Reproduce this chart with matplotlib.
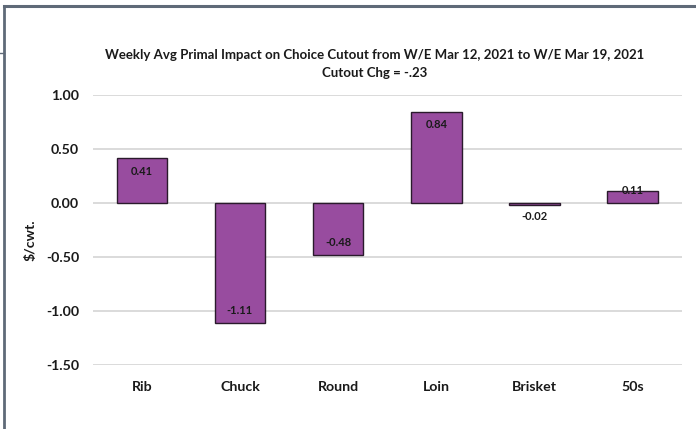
import matplotlib
matplotlib.use("Agg")
import matplotlib.pyplot as plt
from matplotlib.lines import Line2D

categories = ["Rib", "Chuck", "Round", "Loin", "Brisket", "50s"]
values = [0.41, -1.11, -0.48, 0.84, -0.02, 0.11]
value_labels = ["0.41", "-1.11", "-0.48", "0.84", "-0.02", "0.11"]
yticks = [1.00, 0.50, 0.00, -0.50, -1.00, -1.50]
ytick_labels = ["1.00", "0.50", "0.00", "-0.50", "-1.00", "-1.50"]

title_line1 = "Weekly Avg Primal Impact on Choice Cutout from W/E Mar 12, 2021 to W/E Mar 19, 2021"
title_line2 = "Cutout Chg = -.23"

FONT = "Lato"
bar_color = "#984C9F"
edge_color = "#2a1a2c"
grid_color = "#d4d4d4"
text_color = "#1a1a1a"

W, H = 696, 429
fig = plt.figure(figsize=(W / 100, H / 100), dpi=100)
fig.patch.set_facecolor("white")

ax_left, ax_bottom, ax_w, ax_h = 92.7, 364.7, 589.0, 270.0
ax = fig.add_axes([ax_left / W, 1 - ax_bottom / H, ax_w / W, ax_h / H])
ax.set_facecolor("white")

x = list(range(len(categories)))
ax.bar(x, values, width=0.515, color=bar_color, edgecolor=edge_color,
       linewidth=1.0, zorder=3)

ax.set_xlim(-0.5, len(categories) - 0.5)
ax.set_ylim(-1.5, 1.0)
ax.set_yticks(yticks)
ax.set_yticklabels(ytick_labels)
ax.set_xticks(x)
ax.set_xticklabels(categories)
ax.yaxis.grid(True, color=grid_color, linewidth=1.2, zorder=0)
ax.xaxis.grid(False)
for s in ax.spines.values():
    s.set_visible(False)
ax.tick_params(axis="both", length=0, colors=text_color)
ax.tick_params(axis="y", pad=9.8)
ax.tick_params(axis="x", pad=11.5)
for lab in ax.get_yticklabels() + ax.get_xticklabels():
    lab.set_fontfamily(FONT)
    lab.set_fontweight("bold")
    lab.set_fontsize(10.2)

# value labels, Excel "inside end" style
for xi, v, txt in zip(x, values, value_labels):
    if abs(v) < 0.05:
        off = -12 if v < 0 else 12
    elif abs(v) < 0.2:
        off = 0
    else:
        off = -13 if v > 0 else 12
    ax.annotate(txt, xy=(xi, v), xytext=(0, off), textcoords="offset pixels",
                ha="center", va="center", fontfamily=FONT, fontweight="bold",
                fontsize=8, color=text_color, zorder=4)

ax.set_ylabel("$/cwt.", fontfamily=FONT, fontweight="bold", fontsize=10.2,
              color=text_color, va="center")
ax.yaxis.set_label_coords((30 - ax_left) / ax_w, (ax_bottom - 240) / ax_h)

fig.text(374.5 / W, 1 - 55 / H, title_line1, ha="center", va="center",
         fontfamily=FONT, fontweight="bold", fontsize=9.55, color=text_color)
fig.text(374.5 / W, 1 - 73 / H, title_line2, ha="center", va="center",
         fontfamily=FONT, fontweight="bold", fontsize=9.55, color=text_color)

# surrounding frame
frame_color = "#5f6a78"
fig.add_artist(Line2D([3.5 / W, 1], [1 - 5.5 / H, 1 - 5.5 / H], color=frame_color,
                      linewidth=2.2, transform=fig.transFigure))
fig.add_artist(Line2D([3.5 / W, 3.5 / W], [0, 1 - 5.5 / H], color=frame_color,
                      linewidth=2.0, transform=fig.transFigure))
fig.add_artist(Line2D([0, 3.5 / W], [1 - 52.7 / H, 1 - 52.7 / H], color=frame_color,
                      linewidth=1.0, transform=fig.transFigure))

fig.savefig("out.png", dpi=100)
